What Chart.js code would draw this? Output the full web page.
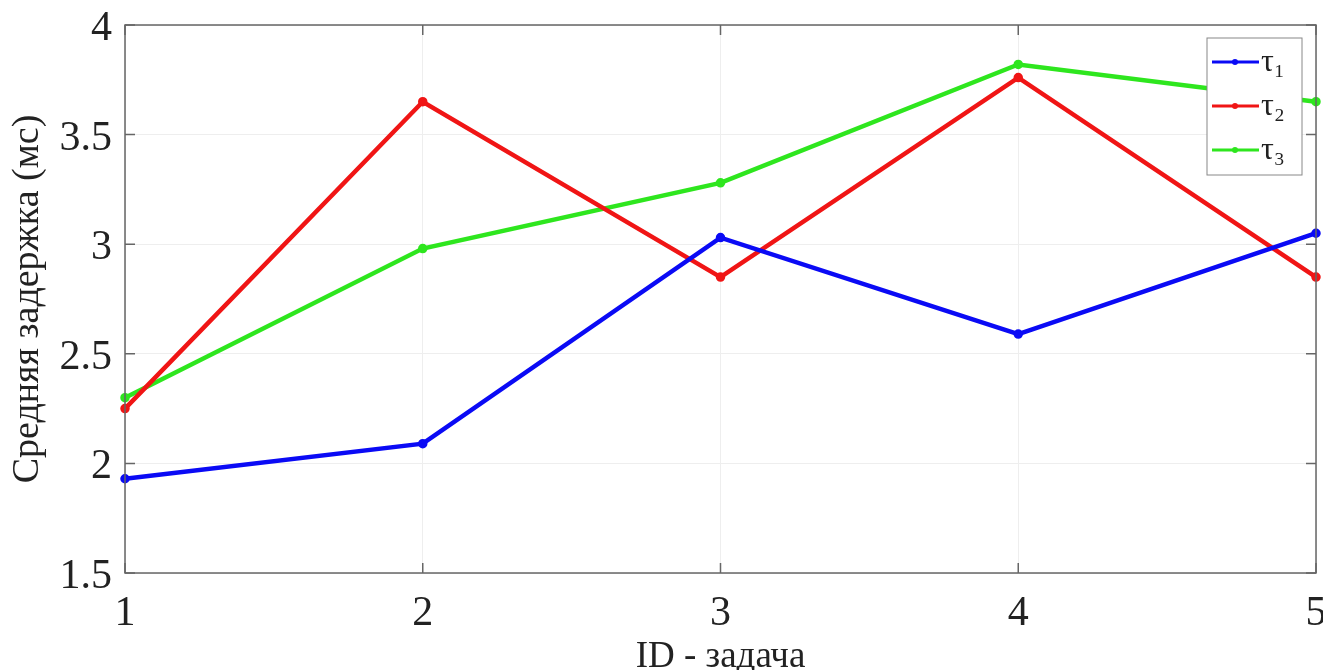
<!DOCTYPE html>
<html>
<head>
<meta charset="utf-8">
<script src="https://cdn.jsdelivr.net/npm/chart.js@4"></script>
<style>
  html, body { margin: 0; padding: 0; background: #fff; }
  #wrap { width: 1323px; height: 670px; }
</style>
</head>
<body>
<div id="wrap"><canvas id="chart" width="1323" height="670"></canvas></div>
<script>
'use strict';

const taskIds = ['1', '2', '3', '4', '5'];
const tau1 = [1.93, 2.09, 3.03, 2.59, 3.05];
const tau2 = [2.25, 3.65, 2.85, 3.76, 2.85];
const tau3 = [2.30, 2.98, 3.28, 3.82, 3.65];
const seriesNames = ['τ₁', 'τ₂', 'τ₃'];

const SERIF = '"Liberation Serif", "DejaVu Serif", serif';
const AXIS_GRAY = '#666';
const TEXT = '#222';

// box frame plus inward ticks on all four sides
const boxPlugin = {
  id: 'box',
  afterDraw(chart) {
    const { ctx, chartArea: a, scales } = chart;
    ctx.save();
    ctx.strokeStyle = AXIS_GRAY;
    ctx.lineWidth = 1.5;
    ctx.strokeRect(a.left, a.top, a.right - a.left, a.bottom - a.top);
    ctx.beginPath();
    scales.y.ticks.forEach((t) => {
      const y = scales.y.getPixelForValue(t.value);
      ctx.moveTo(a.left, y); ctx.lineTo(a.left + 10, y);
      ctx.moveTo(a.right, y); ctx.lineTo(a.right - 10, y);
    });
    scales.x.ticks.forEach((t, i) => {
      const x = scales.x.getPixelForTick(i);
      ctx.moveTo(x, a.bottom); ctx.lineTo(x, a.bottom - 10);
      ctx.moveTo(x, a.top); ctx.lineTo(x, a.top + 10);
    });
    ctx.stroke();
    ctx.restore();
  },
};

// legend box drawn inside the plot, top-right corner
const innerLegend = {
  id: 'innerLegend',
  afterDraw(chart) {
    const { ctx, chartArea: a } = chart;
    const w = 95, h = 137;
    const x0 = a.right - 14 - w, y0 = a.top + 13;
    ctx.save();
    ctx.fillStyle = '#fff';
    ctx.fillRect(x0, y0, w, h);
    ctx.strokeStyle = '#888';
    ctx.lineWidth = 1;
    ctx.strokeRect(x0, y0, w, h);
    ctx.font = '32px ' + SERIF;
    ctx.textBaseline = 'middle';
    chart.data.datasets.forEach((ds, i) => {
      const y = y0 + 24 + i * 44;
      ctx.strokeStyle = ds.borderColor;
      ctx.lineWidth = 3;
      ctx.beginPath();
      ctx.moveTo(x0 + 5, y); ctx.lineTo(x0 + 52, y);
      ctx.stroke();
      ctx.fillStyle = ds.borderColor;
      ctx.beginPath();
      ctx.arc(x0 + 28, y, 3, 0, Math.PI * 2);
      ctx.fill();
      ctx.fillStyle = TEXT;
      ctx.fillText(ds.label, x0 + 54, y + 1);
    });
    ctx.restore();
  },
};

function series(label, data, color) {
  return {
    label,
    data,
    borderColor: color,
    backgroundColor: color,
    borderWidth: 4.5,
    pointRadius: 2.5,
    pointHoverRadius: 2.5,
    tension: 0,
  };
}

new Chart(document.getElementById('chart'), {
  type: 'line',
  data: {
    labels: taskIds,
    datasets: [
      series(seriesNames[0], tau1, '#0a0af5'),
      series(seriesNames[1], tau2, '#f01515'),
      series(seriesNames[2], tau3, '#2ee61e'),
    ],
  },
  options: {
    responsive: false,
    animation: false,
    layout: { padding: { top: 25, right: 6, left: 0, bottom: 0 } },
    plugins: { legend: { display: false }, tooltip: { enabled: false } },
    scales: {
      x: {
        type: 'category',
        offset: false,
        grid: { color: '#eeeeee', drawTicks: false },
        border: { display: false },
        ticks: {
          color: TEXT,
          padding: 18,
          maxRotation: 0,
          font: { family: SERIF, size: 42, lineHeight: 1.1 },
        },
        title: {
          display: true,
          text: 'ID - задача',
          color: TEXT,
          font: { family: SERIF, size: 37, lineHeight: 0.7 },
          padding: { top: 0, bottom: 0 },
        },
        afterFit(scale) {
          scale.height = 97;
          scale.paddingLeft = 0;
          scale.paddingRight = 0;
        },
      },
      y: {
        min: 1.5,
        max: 4,
        grid: { color: '#eeeeee', drawTicks: false },
        border: { display: false },
        ticks: {
          stepSize: 0.5,
          color: TEXT,
          padding: 13,
          labelOffset: 4,
          font: { family: SERIF, size: 42 },
          callback: (v) => String(v),
        },
        title: {
          display: true,
          text: 'Средняя задержка (мс)',
          color: TEXT,
          font: { family: SERIF, size: 38, lineHeight: 1 },
          padding: { top: 9, bottom: 0 },
        },
        afterFit(scale) {
          scale.width = 125;
          scale.paddingTop = 0;
          scale.paddingBottom = 0;
        },
      },
    },
  },
  plugins: [boxPlugin, innerLegend],
});
</script>
</body>
</html>
